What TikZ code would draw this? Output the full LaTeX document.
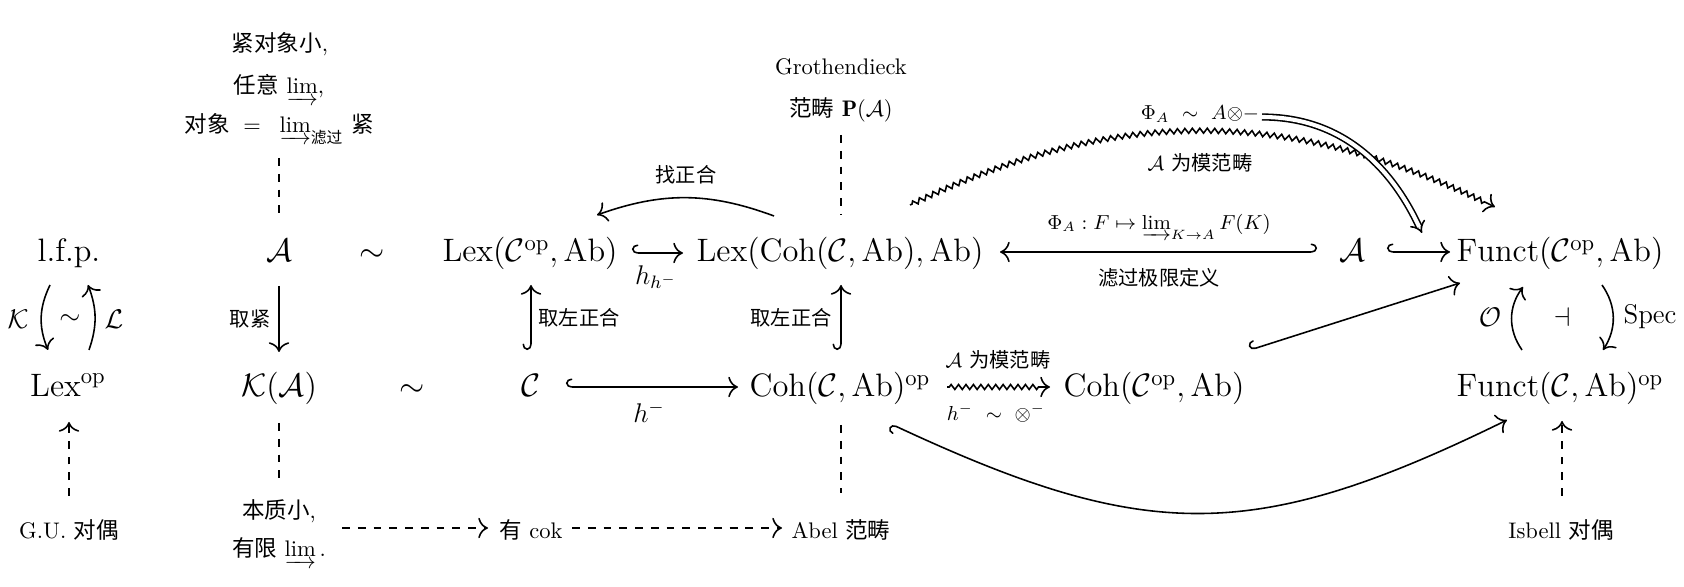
\documentclass[tikz,border=0pt]{standalone}
\usepackage{amsmath}
\usepackage{fontspec}
\newfontfamily\cjk{Noto Sans CJK SC}
\usepackage{tikz-cd}
\usetikzlibrary{calc,arrows.meta,decorations.pathmorphing}
\begin{document}
\begin{tikzpicture}[x=0.444pt,y=-0.444pt, line width=0.7pt,
  every node/.style={inner sep=1pt},
  obj/.style={anchor=base, font=\Large},
  txt/.style={anchor=base, font=\normalsize},
  lbl/.style={font=\small},
  mlbl/.style={font=\large},
  ar/.style={-{tikzcd to}},
  hk/.style={{tikzcd right hook}-{tikzcd to}},
  hkr/.style={{tikzcd left hook}-{tikzcd to}},
  dsh/.style={dash pattern=on 3.5pt off 3.5pt},
  sq/.style={decorate, decoration={zigzag, segment length=3.3pt, amplitude=1.1pt, pre length=1pt, post length=4pt}, -{tikzcd to}},
  dbl/.style={double, double distance=1.8pt, -{Implies}},
]
\fill[white] (0,0) rectangle (1684,587);
\useasboundingbox (0,0) rectangle (1684,587);
% main objects
\node[obj] (lfp) at (69,262) {l.f.p.};
\node[obj] (A1) at (279,262) {$\mathcal{A}$};
\node[obj] (s1) at (372,262) {$\sim$};
\node[obj] (Lex1) at (530,262) {$\mathrm{Lex}(\mathcal{C}^{\mathrm{op}},\mathrm{Ab})$};
\node[obj] (Lex2) at (840,262) {$\mathrm{Lex}(\mathrm{Coh}(\mathcal{C},\mathrm{Ab}),\mathrm{Ab})$};
\node[obj] (A2) at (1352,262) {$\mathcal{A}$};
\node[obj] (FT) at (1560,262) {$\mathrm{Funct}(\mathcal{C}^{\mathrm{op}},\mathrm{Ab})$};
\node[obj] (Lexop) at (68,397) {$\mathrm{Lex}^{\mathrm{op}}$};
\node[obj] (KA) at (279,397) {$\mathcal{K}(\mathcal{A})$};
\node[obj] (s2) at (412,397) {$\sim$};
\node[obj] (C) at (531,397) {$\mathcal{C}$};
\node[obj] (CohOp) at (840,397) {$\mathrm{Coh}(\mathcal{C},\mathrm{Ab})^{\mathrm{op}}$};
\node[obj] (CohCop) at (1154,397) {$\mathrm{Coh}(\mathcal{C}^{\mathrm{op}},\mathrm{Ab})$};
\node[obj] (FB) at (1560,397) {$\mathrm{Funct}(\mathcal{C},\mathrm{Ab})^{\mathrm{op}}$};
% text blocks
\node[txt] (t1) at (280,52) {{\cjk 紧对象小},};
\node[txt] (t2) at (279,94) {{\cjk 任意}\ $\varinjlim$,};
\node[txt] (t3) at (279,133) {{\cjk 对象} $\;=\;\;\varinjlim_{\text{\cjk 滤过}}$ {\cjk 紧}};
\node[txt] (g1) at (841,75) {Grothendieck};
\node[txt] (g2) at (841,117) {{\cjk 范畴} $\mathbf{P}(\mathcal{A})$};
\node[txt] (gu) at (69,538) {G.U. {\cjk 对偶}};
\node[txt] (b1) at (279,518) {{\cjk 本质小},};
\node[txt] (b2) at (279,557) {{\cjk 有限}\ $\varinjlim$\,.};
\node[txt] (cok) at (531,538) {{\cjk 有} cok};
\node[txt] (abel) at (841,538) {Abel {\cjk 范畴}};
\node[txt] (isb) at (1561,538) {Isbell {\cjk 对偶}};
\node[lbl, anchor=base] (phi) at (1200,120) {$\Phi_A\ \sim\ A{\otimes}{-}$};
% labels
\node[lbl] (lk) at (250,319) {\cjk 取紧};
\node[lbl] (l1) at (579,318) {\cjk 取左正合};
\node[lbl] (l2) at (791,318) {\cjk 取左正合};
\node[lbl] (l3) at (686,175) {\cjk 找正合};
\node[mlbl] (hh) at (656,277) {$h_{h^-}$};
\node[mlbl] (hm) at (649,412) {$h^-$};
\node[lbl] (l4) at (1159,278) {\cjk 滤过极限定义};
\node[lbl] (l5) at (1159,227) {$\Phi_A : F\mapsto \varinjlim_{K\to A}F(K)$};
\node[lbl] (l6) at (1200,163) {$\mathcal{A}$ {\cjk 为模范畴}};
\node[lbl] (l7) at (998,360) {$\mathcal{A}$ {\cjk 为模范畴}};
\node[lbl] (l8) at (996,413) {$h^-\ \sim\ \otimes^-$};
\node[mlbl] (lK) at (18,319) {$\mathcal{K}$};
\node[mlbl] (lL) at (114,319) {$\mathcal{L}$};
\node[mlbl] (lsim) at (70,320) {$\sim$};
\node[mlbl] (lO) at (1490,317) {$\mathcal{O}$};
\node[mlbl] (ladj) at (1562,317) {$\dashv$};
\node[mlbl] (lSpec) at (1650,317) {$\mathrm{Spec}$};
% arrows
\draw[ar] ($(A1.base)+(0,24)$) -- ($(KA.base)+(0,-45)$);
\draw[hk] ($(C.base)+(0,-47)$) -- ($(Lex1.base)+(1,23)$);
\draw[hk] ($(CohOp.base)+(1,-47)$) -- ($(Lex2.base)+(1,23)$);
\draw[hk] ($(Lex1.base)+(102,-9)$) -- ($(Lex2.base)+(-157,-9)$);
\draw[ar] ($(Lex2.base)+(-66,-46)$) to[bend right=20] ($(Lex1.base)+(67,-47)$);
\draw[hk] ($(C.base)+(35,-10)$) -- ($(CohOp.base)+(-102,-10)$);
\draw[sq] ($(CohOp.base)+(107,-10)$) -- ($(CohCop.base)+(-104,-10)$);
\draw[hkr] ($(CohOp.base)+(51,27)$) .. controls +(255,119) and +(-253,124) .. ($(FB.base)+(-53,23)$);
\draw[hk] ($(CohCop.base)+(96,-47)$) -- ($(FT.base)+(-100,21)$);
\draw[hk] ($(A2.base)+(35,-10)$) -- ($(FT.base)+(-110,-10)$);
\draw[hkr] ($(A2.base)+(-35,-10)$) -- ($(Lex2.base)+(160,-10)$);
\draw[sq] ($(Lex2.base)+(70,-57)$) to[bend left=26] ($(FT.base)+(-65,-55)$);
\draw[dbl] ($(phi.base)+(62,-3)$) to[out=0,in=115] ($(FT.base)+(-138,-29)$);
\draw[ar] ($(lfp.base)+(-19,23)$) to[bend right=24] ($(Lexop.base)+(-20,-47)$);
\draw[ar] ($(Lexop.base)+(21,-47)$) to[bend right=20] ($(lfp.base)+(19,23)$);
\draw[ar] ($(FB.base)+(-38,-47)$) to[bend left=36] ($(FT.base)+(-37,25)$);
\draw[ar] ($(FT.base)+(42,23)$) to[bend left=34] ($(FB.base)+(43,-47)$);
% dashed
\draw[dsh] ($(t3.base)+(0,25)$) -- ($(A1.base)+(0,-49)$);
\draw[dsh] ($(KA.base)+(0,26)$) -- ($(b1.base)+(0,-40)$);
\draw[dsh] ($(g2.base)+(0,18)$) -- ($(Lex2.base)+(1,-47)$);
\draw[dsh] ($(CohOp.base)+(1,28)$) -- ($(abel.base)+(0,-45)$);
\draw[dsh,ar] ($(gu.base)+(0,-42)$) -- ($(Lexop.base)+(1,25)$);
\draw[dsh,ar] ($(isb.base)+(1,-42)$) -- ($(FB.base)+(2,24)$);
\draw[dsh,ar] ($(b1.base)+(63,10)$) -- ($(cok.base)+(-43,-10)$);
\draw[dsh,ar] ($(cok.base)+(41,-10)$) -- ($(abel.base)+(-59,-10)$);
\end{tikzpicture}
\end{document}
